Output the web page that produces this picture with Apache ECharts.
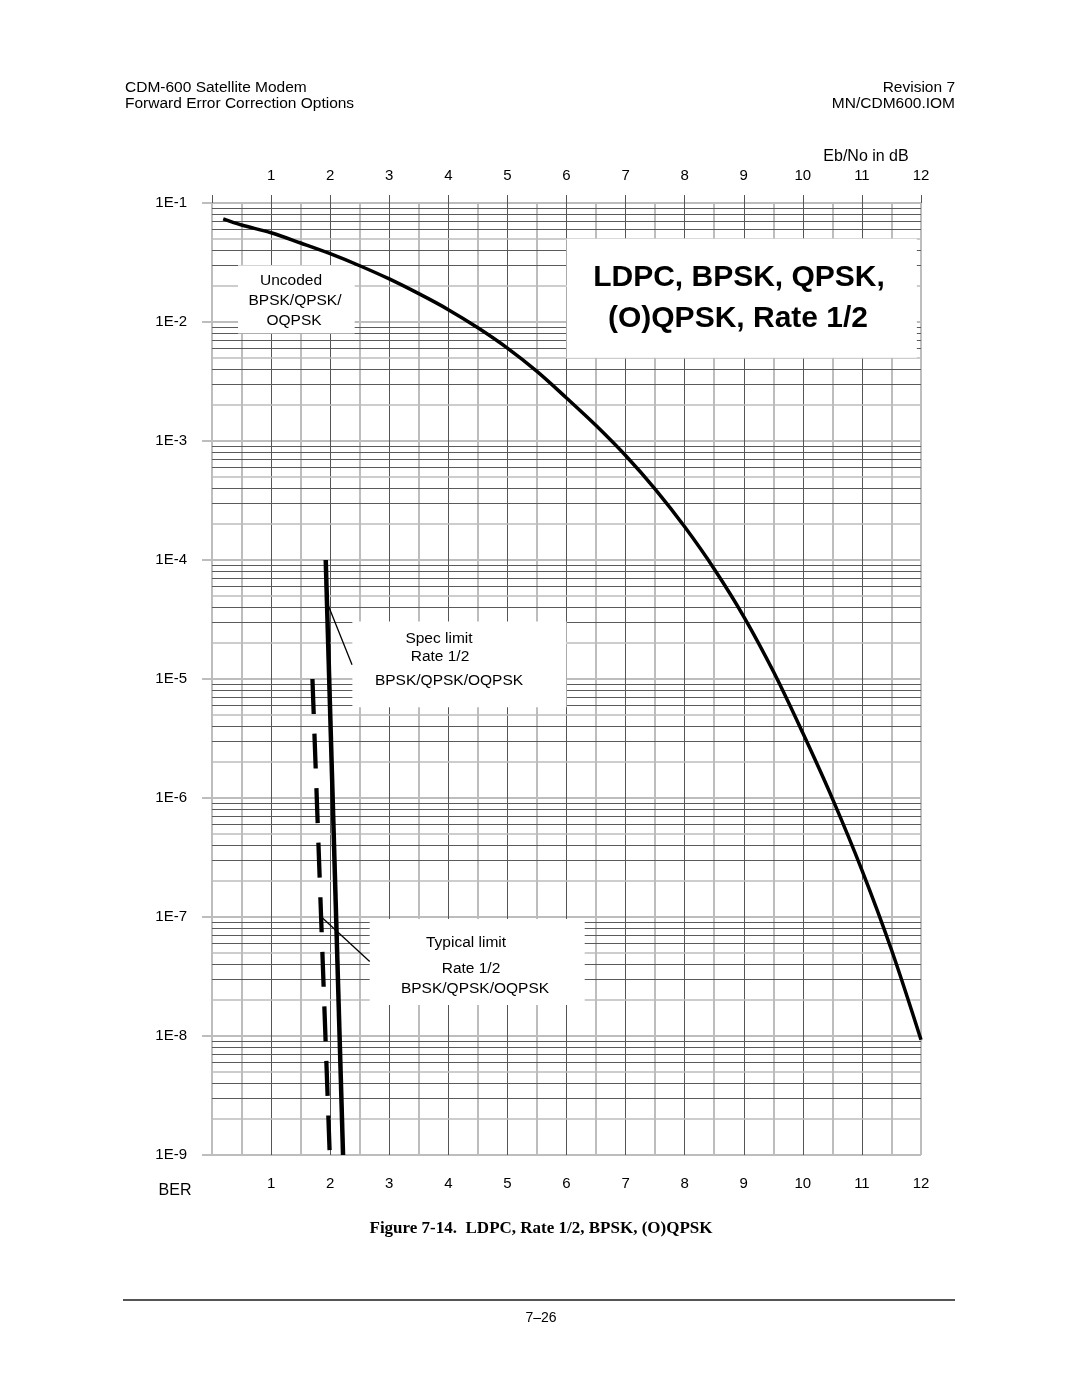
<!DOCTYPE html>
<html><head><meta charset="utf-8">
<script src="https://cdn.jsdelivr.net/npm/echarts@6/dist/echarts.min.js"></script>
<style>html,body{margin:0;padding:0;background:#fff}#c{width:1080px;height:1397px}</style>
</head><body><div id="c"></div>
<script>
// ---- data ----
const xTickValues = [1,2,3,4,5,6,7,8,9,10,11,12];
const berDecades = [1e-1,1e-2,1e-3,1e-4,1e-5,1e-6,1e-7,1e-8,1e-9];
const minorMultipliers = [2,3,4,5,6,7,8,9];

const uncodedEbNo = [0.19,0.5,1,1.5,2,2.5,3,3.5,4,4.5,5,5.5,6,6.5,7,7.5,8,8.5,9,9.5,10,10.5,11,11.5,12];
const uncodedBer  = [7.35e-2,6.53e-2,5.62e-2,4.61e-2,3.75e-2,2.97e-2,2.30e-2,1.73e-2,1.27e-2,8.95e-3,6.04e-3,3.85e-3,2.30e-3,1.349e-3,7.55e-4,3.94e-4,1.90e-4,8.41e-5,3.35e-5,1.16e-5,3.51e-6,9.89e-7,2.48e-7,5.31e-8,9.3e-9];

const specEbNo = [1.925, 2.218];
const specBer  = [1e-4, 1e-9];

const typicalEbNo = [1.70, 1.99];
const typicalBer  = [1e-5, 1.1e-9];

// ---- chart ----
const FONT = "'Liberation Sans', Arial, sans-serif";
const chart = echarts.init(document.getElementById('c'), null, {renderer:'canvas'});

const zip = (xs, ys) => xs.map((x,i)=>[x, ys[i]]);

// minor log grid lines (2..9 within each decade)
const minorLines = [];
berDecades.slice(1).forEach(d => {
  minorMultipliers.forEach(m => {
    const gray = (m === 2 || m === 5);
    minorLines.push({yAxis: d*m, lineStyle:{color: gray ? '#bdbdbd' : '#5a5a5a', width: gray ? 1.5 : 1, type:'solid'}});
  });
});

// half-dB vertical grid colours: gray at half steps and at both edges
const halfColors = [];
for (let i = 0; i <= 24; i++) {
  halfColors.push((i % 2 === 1 || i === 0 || i === 24) ? '#bdbdbd' : 'rgba(0,0,0,0)');
}

const text = (x, y, str, opts={}) => ({
  type:'text', x, y, z:100,
  style: Object.assign({text:str, fill:'#000', font:`15px ${FONT}`, textAlign:'center', textVerticalAlign:'middle'}, opts)
});

const option = {
  backgroundColor:'#fff',
  animation:false,
  grid:{left:212, top:203, width:709, height:952, containLabel:false},
  xAxis:[
    {type:'value', position:'bottom', min:0, max:12, interval:1,
     axisLine:{show:false}, axisTick:{show:false},
     axisLabel:{show:true, margin:21, fontSize:15, color:'#000', fontFamily:FONT,
       formatter:v => xTickValues.includes(v) ? String(v) : ''},
     splitLine:{show:true, lineStyle:{color:'#555', width:1}}},
    {type:'value', position:'top', min:0, max:12, interval:1,
     axisLine:{show:false}, axisTick:{show:true, length:8, lineStyle:{color:'#555', width:1}},
     axisLabel:{show:true, margin:20, fontSize:15, color:'#000', fontFamily:FONT,
       formatter:v => xTickValues.includes(v) ? String(v) : ''},
     splitLine:{show:false}},
    {type:'value', position:'top', min:0, max:12, interval:0.5,
     axisLine:{show:false}, axisTick:{show:false}, axisLabel:{show:false},
     splitLine:{show:true, lineStyle:{color:halfColors, width:2}}}
  ],
  yAxis:[{
    type:'log', logBase:10, min:1e-9, max:1e-1, splitNumber:8,
    axisLine:{show:false},
    axisTick:{show:true, length:10, lineStyle:{color:'#bdbdbd', width:2}},
    axisLabel:{show:true, margin:25, fontSize:15, color:'#000', fontFamily:FONT,
      formatter:v => '1E' + Math.round(Math.log10(v))},
    splitLine:{show:true, lineStyle:{color:'#bdbdbd', width:2}}
  }],
  series:[
    {name:'Uncoded BPSK/QPSK/OQPSK', type:'line', data: zip(uncodedEbNo, uncodedBer),
     smooth:0.35, symbol:'none', z:3,
     lineStyle:{color:'#000', width:3.5},
     markLine:{silent:true, z:0.5, precision:14, symbol:['none','none'], label:{show:false},
       animation:false, data: minorLines}},
    {name:'Spec limit', type:'line', data: zip(specEbNo, specBer), symbol:'none', z:3,
     lineStyle:{color:'#000', width:4.5},
     markLine:{silent:true, z:6, precision:14, symbol:['none','arrow'], symbolSize:[0,11], label:{show:false},
       lineStyle:{color:'#000', width:1.3, type:'solid'}, animation:false,
       data:[
         [{coord:[2.37, 1.315e-5]}, {coord:[1.963, 4.2e-5]}],
         [{coord:[2.669, 4.22e-8]}, {coord:[1.852, 1.0e-7]}]
       ]}},
    {name:'Typical limit', type:'line', data: zip(typicalEbNo, typicalBer), symbol:'none', z:3,
     lineStyle:{color:'#000', width:4.3, type:[35,19.6], cap:'butt'},
     markArea:{silent:true, z:1, itemStyle:{color:'#fff', borderWidth:0}, label:{show:false},
       data:[
         [{coord:[0.44, 3e-2]}, {coord:[2.415, 8e-3]}],
         [{coord:[6.0, 5e-2]}, {coord:[11.93, 5e-3]}],
         [{coord:[2.376, 3.04e-5]}, {coord:[6.0, 5.8e-6]}],
         [{coord:[2.669, 9.6e-8]}, {coord:[6.308, 1.82e-8]}]
       ]}}
  ],
  graphic:[
    text(125, 88, 'CDM-600 Satellite Modem', {textAlign:'left', font:`15.5px ${FONT}`}),
    text(125, 104, 'Forward Error Correction Options', {textAlign:'left', font:`15.5px ${FONT}`}),
    text(955, 88, 'Revision 7', {textAlign:'right', font:`15.5px ${FONT}`}),
    text(955, 104, 'MN/CDM600.IOM', {textAlign:'right', font:`15.5px ${FONT}`}),
    text(866, 157, 'Eb/No in dB', {font:`16px ${FONT}`}),
    text(175, 1191, 'BER', {font:`16px ${FONT}`}),
    text(739, 278, 'LDPC, BPSK, QPSK,', {font:`bold 30px ${FONT}`}),
    text(738, 319, '(O)QPSK, Rate 1/2', {font:`bold 30px ${FONT}`}),
    text(291, 281, 'Uncoded', {font:`15.5px ${FONT}`}),
    text(295, 301, 'BPSK/QPSK/', {font:`15.5px ${FONT}`}),
    text(294, 321, 'OQPSK', {font:`15.5px ${FONT}`}),
    text(439, 639, 'Spec limit', {font:`15.5px ${FONT}`}),
    text(440, 657, 'Rate 1/2', {font:`15.5px ${FONT}`}),
    text(449, 681, 'BPSK/QPSK/OQPSK', {font:`15.5px ${FONT}`}),
    text(466, 943, 'Typical limit', {font:`15.5px ${FONT}`}),
    text(471, 969, 'Rate 1/2', {font:`15.5px ${FONT}`}),
    text(475, 989, 'BPSK/QPSK/OQPSK', {font:`15.5px ${FONT}`}),
    text(541, 1229, 'Figure 7-14.  LDPC, Rate 1/2, BPSK, (O)QPSK', {font:`bold 17px 'Liberation Serif', 'Times New Roman', serif`}),
    {type:'rect', z:100, shape:{x:123, y:1299, width:832, height:2}, style:{fill:'#555'}},
    text(541, 1318, '7\u201326', {font:`14px ${FONT}`})
  ]
};
chart.setOption(option);
</script>
</body></html>
